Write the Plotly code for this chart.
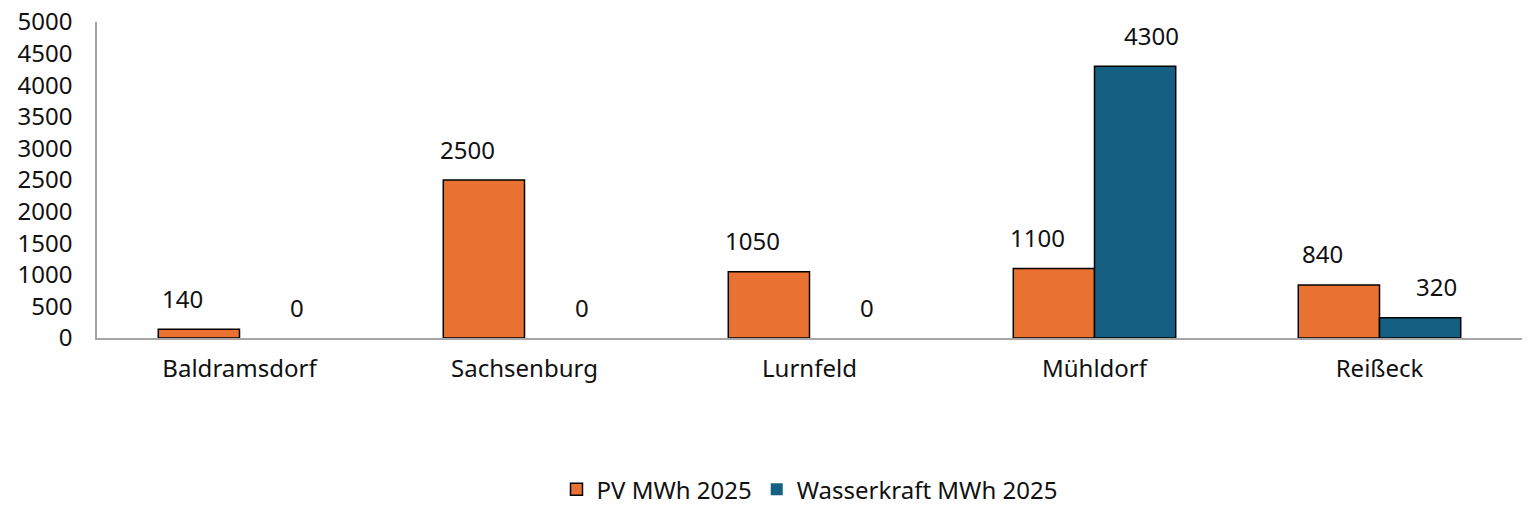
import plotly.graph_objects as go

# Standorte und Jahreswerte (MWh)
standorte = ["Baldramsdorf", "Sachsenburg", "Lurnfeld", "Mühldorf", "Reißeck"]
pv_mwh = [140, 2500, 1050, 1100, 840]
wasser_mwh = [0, 0, 0, 4300, 320]

y_ticks = list(range(0, 5001, 500))

fnt = "Noto Sans, Segoe UI, sans-serif"
orange = "#E97132"
blau = "#156082"


def randbreite(werte):
    # Nullwerte ohne Rahmen, sonst zeichnet plotly einen Strich
    return [0 if v == 0 else 1.5 for v in werte]


fig = go.Figure()
fig.add_trace(go.Bar(
    x=standorte, y=pv_mwh, name="PV MWh 2025",
    marker=dict(color=orange, line=dict(color="#000000", width=randbreite(pv_mwh))),
))
fig.add_trace(go.Bar(
    x=standorte, y=wasser_mwh, name="Wasserkraft MWh 2025",
    marker=dict(color=blau, line=dict(color="#000000", width=randbreite(wasser_mwh))),
))

# Datenbeschriftungen wie in Excel, etwas oberhalb der Balken
for i, name in enumerate(standorte):
    for val, off in ((pv_mwh[i], -0.2), (wasser_mwh[i], 0.2)):
        fig.add_annotation(
            x=i + off, y=val, text=str(val), showarrow=False,
            yshift=31, font=dict(size=24, color="#111111", family=fnt),
        )

fig.update_layout(
    width=1536, height=519,
    plot_bgcolor="white", paper_bgcolor="white",
    font=dict(family=fnt, size=24, color="#111111"),
    barmode="group", bargap=0.43, bargroupgap=0,
    margin=dict(l=97, r=14, t=22, b=181, autoexpand=False),
    xaxis=dict(
        showline=True, linecolor="#a6a6a6", linewidth=1.5,
        ticks="", tickfont=dict(size=24), range=[-0.5, 4.5],
        automargin=False, ticklabelstandoff=8,
    ),
    yaxis=dict(
        range=[0, 5000], tickvals=y_ticks, showgrid=False,
        showline=True, linecolor="#a6a6a6", linewidth=1.5,
        ticks="", zeroline=False, tickfont=dict(size=24),
        automargin=False, ticklabelstandoff=18,
        ticklabeloverflow="allow",
    ),
    legend=dict(
        orientation="h", x=0.5, xanchor="center", y=-0.48, yanchor="middle",
        font=dict(size=24), itemwidth=30, traceorder="normal",
    ),
)

# Seitenrand entfernen, damit die Grafik genau ins Fenster passt
fig.write_html(
    "out.html",
    config={"displayModeBar": False},
    post_script="document.body.style.margin='0';document.body.style.overflow='hidden';",
)
